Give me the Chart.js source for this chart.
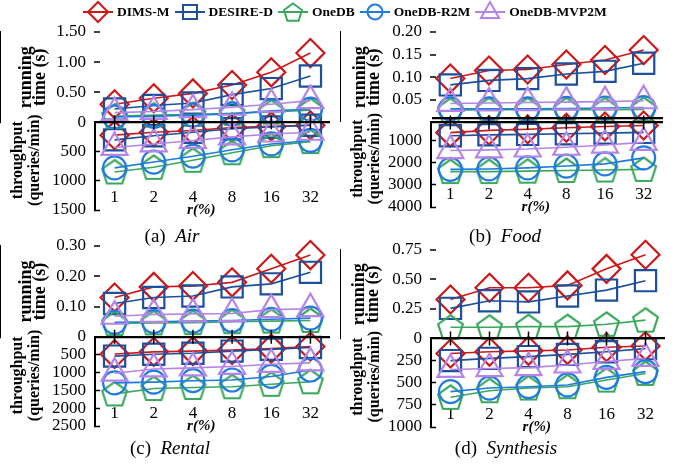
<!DOCTYPE html>
<html>
<head>
<meta charset="utf-8">
<script src="https://cdn.jsdelivr.net/npm/chart.js@4.4.1/dist/chart.umd.min.js"></script>
<style>
  body { margin: 0; background: #fff; }
  #wrap { position: relative; width: 678px; height: 466px; overflow: hidden; font-family: 'Liberation Serif', 'Times New Roman', serif; }
  canvas.plot { position: absolute; }
  #legend { position: absolute; left: 83px; top: 0; height: 24px; display: flex; align-items: center; z-index: 3; }
  .item { display: flex; align-items: center; margin-right: 5px; }
  .item span { font-weight: bold; font-size: 13.5px; margin-left: 4px; white-space: nowrap; }
  .cap { position: absolute; font-size: 19px; transform: translateX(-50%); white-space: nowrap; z-index: 3; }
</style>
</head>
<body>
<div id="wrap">
  <div id="legend"></div>
  <canvas class="plot" id="c_air" width="340" height="204" style="left:0;top:20px"></canvas>
  <canvas class="plot" id="c_food" width="338" height="201" style="left:340px;top:20px"></canvas>
  <canvas class="plot" id="c_rental" width="340" height="206" style="left:0;top:234px"></canvas>
  <canvas class="plot" id="c_syn" width="338" height="203" style="left:340px;top:238px"></canvas>
  <div class="cap" style="left:172px;top:225px">(a)&ensp;<i>Air</i></div>
  <div class="cap" style="left:505px;top:225px">(b)&ensp;<i>Food</i></div>
  <div class="cap" style="left:170px;top:437px">(c)&ensp;<i>Rental</i></div>
  <div class="cap" style="left:506px;top:437px">(d)&ensp;<i>Synthesis</i></div>
</div>
<script>
var xLabels = ['1', '2', '4', '8', '16', '32'];
var methods = ['DIMS-M', 'DESIRE-D', 'OneDB', 'OneDB-R2M', 'OneDB-MVP2M'];
var colors = ['#cc1818', '#1d4f9c', '#3aa85c', '#1f7be0', '#b584e6'];

// rows follow the order of methods; null = not shown
var airTime = [
  [0.30, 0.40, 0.48, 0.62, 0.83, 1.15],
  [0.22, 0.28, 0.32, 0.46, 0.56, 0.77],
  [0.10, 0.12, 0.13, 0.15, 0.17, 0.20],
  [0.09, 0.10, 0.12, 0.14, 0.19, 0.22],
  [0.16, 0.18, 0.21, 0.25, 0.30, 0.36]
];
var airThroughput = [
  [220, 170, 140, 90, 70, 50],
  [300, 230, 170, 110, 80, 50],
  [850, 770, 650, 520, 400, 330],
  [780, 680, 580, 470, 370, 310],
  [430, 370, 310, 250, 200, 170]
];
var foodTime = [
  [0.097, 0.115, 0.117, 0.128, 0.138, 0.160],
  [0.083, 0.093, 0.097, 0.107, 0.113, 0.131],
  [0.027, 0.028, 0.028, 0.028, 0.028, 0.029],
  [0.030, 0.030, 0.030, 0.031, 0.032, 0.033],
  [0.042, 0.043, 0.044, 0.045, 0.046, 0.048]
];
var foodThroughput = [
  [640, 540, 490, 420, 360, 320],
  [780, 740, 720, 690, 660, 630],
  [2400, 2400, 2380, 2350, 2330, 2300],
  [2300, 2280, 2230, 2150, 2050, 1780],
  [1450, 1420, 1380, 1300, 1200, 1080]
];
var rentalTime = [
  [0.130, 0.165, 0.168, 0.180, 0.225, 0.270],
  [0.110, 0.130, 0.135, 0.165, 0.175, 0.213],
  [0.044, 0.046, 0.047, 0.050, 0.052, 0.054],
  [0.048, 0.050, 0.052, 0.054, 0.058, 0.062],
  [0.068, 0.074, 0.076, 0.077, 0.090, 0.093]
];
var rentalThroughput = [
  [480, 420, 400, 370, 330, 270],
  [540, 490, 460, 400, 350, 300],
  [1600, 1450, 1420, 1400, 1330, 1260],
  [1290, 1270, 1230, 1210, 1110, 930],
  [1020, 900, 870, 830, 770, 730]
];
var synTime = [
  [0.33, 0.43, 0.43, 0.45, 0.59, 0.71],
  [0.255, 0.32, 0.31, 0.36, 0.41, 0.49],
  [0.095, 0.095, 0.10, 0.10, 0.12, 0.155],
  null,
  null
];
var synThroughput = [
  [170, 150, 140, 130, 100, 85],
  [250, 225, 205, 180, 150, 115],
  [665, 590, 560, 545, 470, 395],
  [600, 560, 545, 525, 440, 375],
  [350, 340, 330, 300, 260, 225]
];

// tick values and their labels
var airTimeTicks = [0, 0.5, 1.0, 1.5];
var airTimeLabels = ['0', '0.50', '1.00', '1.50'];
var airTputTicks = [500, 1000, 1500];
var foodTimeTicks = [0.05, 0.10, 0.15, 0.20];
var foodTimeLabels = ['0.05', '0.10', '0.15', '0.20'];
var foodTputTicks = [1000, 2000, 3000, 4000];
var rentalTimeTicks = [0, 0.1, 0.2, 0.3];
var rentalTimeLabels = ['0', '0.10', '0.20', '0.30'];
var rentalTputTicks = [500, 1000, 1500, 2000, 2500];
var synTimeTicks = [0, 0.25, 0.5, 0.75];
var synTimeLabels = ['0', '0.25', '0.50', '0.75'];
var synTputTicks = [250, 500, 750, 1000];

var FONT = "'Liberation Serif', 'Times New Roman', serif";
Chart.defaults.font.family = FONT;
Chart.defaults.color = '#000';

function pentagonImage(r, color, lw) {
  var c = document.createElement('canvas');
  var s = Math.ceil(2 * r + lw + 2);
  c.width = s; c.height = s;
  var g = c.getContext('2d');
  g.strokeStyle = color; g.lineWidth = lw; g.lineJoin = 'miter';
  g.beginPath();
  for (var i = 0; i < 5; i++) {
    var a = -Math.PI / 2 + i * 2 * Math.PI / 5;
    var px = s / 2 + r * Math.cos(a), py = s / 2 + 1 + r * Math.sin(a);
    if (i) g.lineTo(px, py); else g.moveTo(px, py);
  }
  g.closePath(); g.stroke();
  return c;
}

var styles = ['rectRot', 'rect', pentagonImage(13, colors[2], 2.2), 'circle', 'triangle'];
var radii = [14, 15, 13, 11.5, 15];

function seriesSets(rows, axis) {
  var out = [];
  rows.forEach(function (vals, i) {
    if (!vals) return;
    out.push({
      label: methods[i], data: vals, yAxisID: axis,
      borderColor: colors[i], borderWidth: 1.6,
      pointStyle: styles[i], pointRadius: radii[i], pointHoverRadius: radii[i],
      pointBorderWidth: 2.2, pointBorderColor: colors[i],
      pointBackgroundColor: 'rgba(0,0,0,0)',
      order: 5 - i, clip: false, tension: 0, fill: false
    });
  });
  return out;
}

// "+" marks where the x ticks cross the zero line
var zeroMarks = {
  id: 'zeroMarks',
  afterDraw: function (chart) {
    var ctx = chart.ctx, x = chart.scales.x, yt = chart.scales.yt;
    var y0 = yt.getPixelForValue(0);
    ctx.save();
    ctx.strokeStyle = '#000'; ctx.lineWidth = 1.5;
    x.ticks.forEach(function (t, i) {
      var px = x.getPixelForTick(i);
      ctx.beginPath();
      ctx.moveTo(px - 6, y0); ctx.lineTo(px + 6, y0);
      ctx.moveTo(px, y0 - 7); ctx.lineTo(px, y0 + 7);
      ctx.stroke();
    });
    ctx.restore();
  }
};

function fixWidth(w) {
  return function (s) { s.width = w; s.paddingTop = 8; s.paddingBottom = 8; };
}

function draw_panel(id, p) {
  var lines = p.zeroLines;
  var extra = lines.filter(function (v) { return p.timeTicks.indexOf(v) < 0; });
  var timeAll = p.timeTicks.concat(extra);
  var timeText = p.timeLabels.concat(extra.map(function () { return ''; }));
  new Chart(document.getElementById(id), {
    type: 'line',
    data: {
      labels: xLabels,
      datasets: seriesSets(p.time, 'yt').concat(seriesSets(p.tput, 'yb'))
    },
    options: {
      responsive: false, animation: false, events: [],
      layout: { autoPadding: false, padding: { top: 12, right: p.padRight, left: 0, bottom: 0 } },
      plugins: { legend: { display: false }, tooltip: { enabled: false } },
      scales: {
        x: {
          type: 'category', offset: true,
          grid: { display: false, drawTicks: false }, border: { display: false },
          ticks: { font: { size: 17 }, color: '#000', mirror: true, padding: 2, maxRotation: 0, autoSkip: false },
          title: { display: true, text: 'r(%)' + '\u00a0\u00a0\u00a0\u00a0\u00a0\u00a0', color: '#000',
                   font: { size: 15, weight: 'bold', style: 'italic' }, padding: { top: 0, bottom: 5 } },
          afterFit: function (s) { s.height = 14; }
        },
        yt: {
          position: 'left', stack: 'v', stackWeight: p.topW, weight: 2,
          min: p.timeMin, max: p.timeMax,
          afterBuildTicks: function (s) {
            s.ticks = timeAll.map(function (v, i) { return { value: v, text: timeText[i] }; });
          },
          afterTickToLabelConversion: function (s) {
            s.ticks.forEach(function (t, i) { t.label = timeText[i]; });
          },
          ticks: { font: { size: 17 }, color: '#000', padding: 14, autoSkip: false },
          grid: {
            z: 1, tickLength: -5, tickWidth: 1.5,
            color: function (c) { return lines.indexOf(c.tick.value) >= 0 ? '#000' : 'rgba(0,0,0,0)'; },
            lineWidth: function (c) { return lines.indexOf(c.tick.value) >= 0 ? 2.2 : 0; },
            tickColor: function (c) { return lines.indexOf(c.tick.value) >= 0 ? 'rgba(0,0,0,0)' : '#000'; }
          },
          border: { color: '#000', width: 2 },
          title: { display: true, text: ['running', 'time (s)'], color: '#000',
                   font: { size: 18, weight: 'bold', lineHeight: 0.78 }, padding: { top: p.timeTitlePad, bottom: 0 } },
          afterFit: fixWidth(p.axisW)
        },
        yb: {
          position: 'left', stack: 'v', stackWeight: p.botW, weight: 1, reverse: true,
          min: p.tputMin, max: p.tputMax,
          afterBuildTicks: function (s) { s.ticks = p.tputTicks.map(function (v) { return { value: v }; }); },
          ticks: { font: { size: 17 }, color: '#000', padding: 14, autoSkip: false,
                   callback: function (v) { return String(v); } },
          grid: { drawOnChartArea: false, tickLength: -5, tickWidth: 1.5, tickColor: '#000' },
          border: { color: '#000', width: 2 },
          title: { display: true, text: ['\u00a0\u00a0\u00a0throughput', '\u00a0\u00a0\u00a0(queries/min)'], color: '#000',
                   font: { size: 16, weight: 'bold', lineHeight: 1.05 }, padding: { top: p.tputTitlePad, bottom: 0 } },
          afterFit: fixWidth(p.axisW)
        }
      }
    },
    plugins: [zeroMarks]
  });
}

draw_panel('c_air', {
  time: airTime, tput: airThroughput,
  timeMin: 0, timeMax: 1.5, timeTicks: airTimeTicks, timeLabels: airTimeLabels, zeroLines: [0],
  tputMin: 0, tputMax: 1500, tputTicks: airTputTicks,
  topW: 90.3, botW: 87.7, axisW: 95, padRight: 10, timeTitlePad: 19.5, tputTitlePad: 9.5
});
draw_panel('c_food', {
  time: foodTime, tput: foodThroughput,
  timeMin: 0, timeMax: 0.2, timeTicks: foodTimeTicks, timeLabels: foodTimeLabels, zeroLines: [0, 0.0088],
  tputMin: 180, tputMax: 4000, tputTicks: foodTputTicks,
  topW: 90.3, botW: 84.4, axisW: 91, padRight: 15, timeTitlePad: 13, tputTitlePad: 9.5
});
draw_panel('c_rental', {
  time: rentalTime, tput: rentalThroughput,
  timeMin: 0, timeMax: 0.3, timeTicks: rentalTimeTicks, timeLabels: rentalTimeLabels, zeroLines: [0],
  tputMin: 0, tputMax: 2500, tputTicks: rentalTputTicks,
  topW: 90.7, botW: 89, axisW: 95, padRight: 10, timeTitlePad: 19.5, tputTitlePad: 9.5
});
draw_panel('c_syn', {
  time: synTime, tput: synThroughput,
  timeMin: 0, timeMax: 0.75, timeTicks: synTimeTicks, timeLabels: synTimeLabels, zeroLines: [0],
  tputMin: 0, tputMax: 1000, tputTicks: synTputTicks,
  topW: 88.3, botW: 88.4, axisW: 91, padRight: 13, timeTitlePad: 12, tputTitlePad: 9.5
});

// legend: line with marker, then bold name
function legendMarker(g, i, x, y) {
  g.strokeStyle = colors[i]; g.lineWidth = 2;
  g.beginPath();
  if (i === 0) { g.moveTo(x, y - 10); g.lineTo(x + 10, y); g.lineTo(x, y + 10); g.lineTo(x - 10, y); g.closePath(); }
  if (i === 1) { g.rect(x - 7, y - 7, 14, 14); }
  if (i === 3) { g.arc(x, y, 7.5, 0, Math.PI * 2); }
  if (i === 4) { g.moveTo(x, y - 10); g.lineTo(x + 9, y + 6); g.lineTo(x - 9, y + 6); g.closePath(); }
  if (i === 2) {
    for (var k = 0; k < 5; k++) {
      var a = -Math.PI / 2 + k * 2 * Math.PI / 5;
      var px = x + 9.5 * Math.cos(a), py = y + 1 + 9.5 * Math.sin(a);
      if (k) g.lineTo(px, py); else g.moveTo(px, py);
    }
    g.closePath();
  }
  g.stroke();
}
var legend = document.getElementById('legend');
methods.forEach(function (name, i) {
  var item = document.createElement('div');
  item.className = 'item';
  var c = document.createElement('canvas');
  c.width = 30; c.height = 24;
  var g = c.getContext('2d');
  g.strokeStyle = colors[i]; g.lineWidth = 2;
  g.beginPath(); g.moveTo(0, 12); g.lineTo(30, 12); g.stroke();
  legendMarker(g, i, 15, 12);
  var s = document.createElement('span');
  s.textContent = name;
  item.appendChild(c); item.appendChild(s);
  legend.appendChild(item);
});
</script>
</body>
</html>
